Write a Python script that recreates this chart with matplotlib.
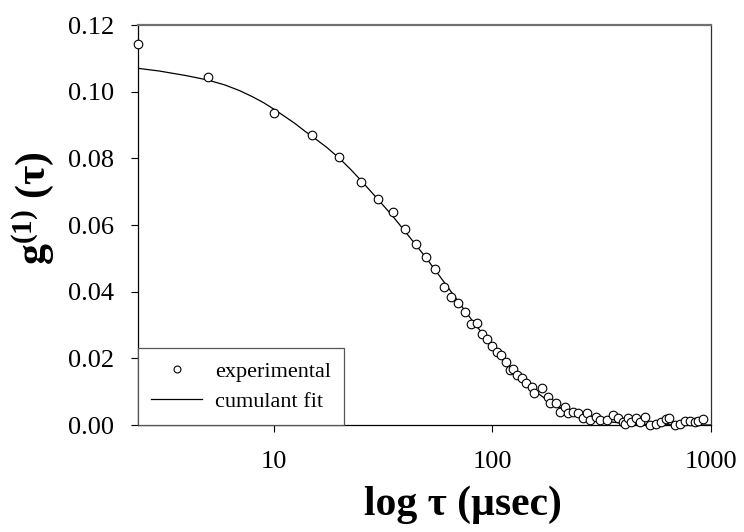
import matplotlib
matplotlib.use("Agg")
import matplotlib.pyplot as plt
from matplotlib.ticker import FixedLocator, NullLocator, FormatStrFormatter

# experimental data (tau in microseconds, g1)
tau_exp = [2.4, 5, 10, 15, 20, 25, 30, 35, 40, 45, 50, 55, 60, 65, 70, 75, 80, 85, 90, 95,
           100, 105, 110, 115, 120, 125, 130, 137, 143, 152, 155, 168, 180, 183, 196, 203,
           214, 222, 234, 247, 260, 270, 279, 299, 310, 333, 356, 375, 396, 405, 417, 432,
           456, 472, 498, 524, 562, 593, 625, 646, 682, 718, 758, 798, 842, 870, 918]
g1_exp = [0.1143, 0.1043, 0.0936, 0.0869, 0.0805, 0.0728, 0.0677, 0.0639, 0.0588, 0.0542,
          0.0504, 0.0467, 0.0414, 0.0383, 0.0365, 0.0338, 0.0303, 0.0305, 0.0274, 0.0258,
          0.0238, 0.0220, 0.0210, 0.0190, 0.0165, 0.0168, 0.0150, 0.0140, 0.0125, 0.0113,
          0.0095, 0.0110, 0.0085, 0.0065, 0.0065, 0.0040, 0.0055, 0.0035, 0.0040, 0.0035,
          0.0020, 0.0037, 0.0015, 0.0025, 0.0015, 0.0015, 0.0030, 0.0020, 0.0010, 0.0002,
          0.0020, 0.0008, 0.0020, 0.0010, 0.0025, 0.0000, 0.0003, 0.0010, 0.0018, 0.0020,
          0.0000, 0.0003, 0.0013, 0.0013, 0.0010, 0.0012, 0.0017]

# cumulant fit curve
tau_fit = [2.4, 3, 4, 5, 6, 7, 8, 9, 10, 11, 12.5, 14, 15, 17.5, 20, 22.5, 25, 30, 35, 40,
           45, 50, 60, 70, 80, 90, 100, 110, 120, 140, 160, 180, 200, 225, 250, 300, 350,
           400, 500, 600, 800, 1000]
g1_fit = [0.1070, 0.1062, 0.1048, 0.1035, 0.1020, 0.1003, 0.0985, 0.0967, 0.0948, 0.0930,
          0.0905, 0.0880, 0.0866, 0.0833, 0.0800, 0.0767, 0.0735, 0.0677, 0.0627, 0.0580,
          0.0538, 0.0500, 0.0430, 0.0370, 0.0318, 0.0275, 0.0238, 0.0205, 0.0176, 0.0128,
          0.0097, 0.0073, 0.0055, 0.0041, 0.0030, 0.0016, 0.0009, 0.0005, 0.0002, 0.0001,
          0.0000, 0.0000]

x_ticks = [10, 100, 1000]
x_ticklabels = ["10", "100", "1000"]
y_ticks = [0.00, 0.02, 0.04, 0.06, 0.08, 0.10, 0.12]

plt.rcParams['font.family'] = ['Liberation Serif', 'DejaVu Serif']
plt.rcParams['mathtext.fontset'] = 'custom'
plt.rcParams['mathtext.rm'] = 'Liberation Serif'
plt.rcParams['mathtext.bf'] = 'Liberation Serif:bold'
plt.rcParams['mathtext.it'] = 'Liberation Serif:italic'

fig = plt.figure(figsize=(7.44, 5.32), dpi=100)
ax = fig.add_axes([138/744, 1-425/532, (711-138)/744, 400/532])

ax.plot(tau_fit, g1_fit, color='black', lw=0.9, label='cumulant fit', zorder=2)
ax.plot(tau_exp, g1_exp, linestyle='none', marker='o', markersize=6.2,
        markerfacecolor='white', markeredgecolor='black', markeredgewidth=0.8,
        label='experimental', clip_on=False, zorder=3)

ax.set_xscale('log')
ax.set_xlim(2.4, 1000)
ax.set_ylim(0, 0.12)
ax.xaxis.set_major_locator(FixedLocator(x_ticks))
ax.xaxis.set_minor_locator(NullLocator())
ax.set_xticklabels(x_ticklabels)
ax.set_yticks(y_ticks)
ax.yaxis.set_major_formatter(FormatStrFormatter('%.2f'))

ax.tick_params(axis='both', direction='out', length=5, width=0.8, labelsize=19, color='black')
ax.tick_params(axis='x', pad=14)
ax.tick_params(axis='y', pad=12)

for s in ['left', 'bottom']:
    ax.spines[s].set_color('black')
    ax.spines[s].set_linewidth(0.9)
ax.spines['top'].set_color('#707070')
ax.spines['top'].set_linewidth(1.6)
ax.spines['right'].set_color('#303030')
ax.spines['right'].set_linewidth(0.9)

ax.set_xlabel('log τ (µsec)', fontsize=30, fontweight='bold')
ax.xaxis.set_label_coords((463-138)/573, (425-505)/400)
ax.xaxis.label.set_verticalalignment('center')
ax.set_ylabel(r'$\mathbf{g^{(1)}}$ (τ)', fontsize=30, fontweight='bold')
ax.yaxis.set_label_coords((33-138)/573, (425-208)/400)
ax.yaxis.label.set_verticalalignment('center')

h, l = ax.get_legend_handles_labels()
leg = ax.legend([h[1], h[0]], [l[1], l[0]], loc='lower left', bbox_to_anchor=(0, 0),
                borderaxespad=0, fancybox=False, framealpha=1, edgecolor='#555555',
                fontsize=16, handlelength=2.3, handletextpad=0.55, borderpad=0.6,
                labelspacing=0.4, markerscale=0.8)
leg.get_frame().set_linewidth(0.9)

fig.savefig('out.png', dpi=100)
